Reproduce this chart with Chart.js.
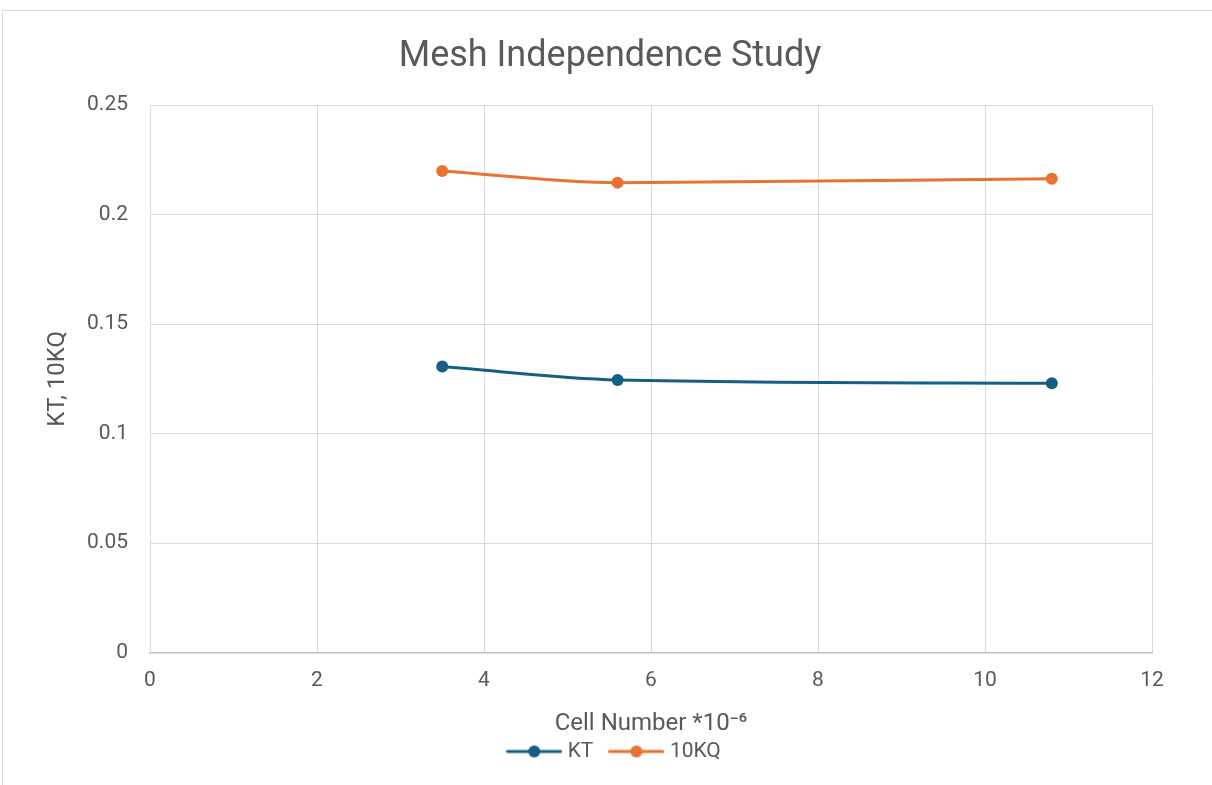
<!DOCTYPE html>
<html>
<head>
<meta charset="utf-8">
<script src="https://cdn.jsdelivr.net/npm/chart.js@4.4.1/dist/chart.umd.min.js"></script>
<style>
  html, body { margin: 0; padding: 0; background: #ffffff; overflow: hidden; }
  #frame { position: absolute; left: 2px; top: 10px; width: 1300px; height: 900px; border: 1px solid #d9d9d9; box-sizing: border-box; }
  #wrap { position: absolute; left: 0; top: 0; width: 1212px; height: 785px; }
</style>
</head>
<body>
<div id="frame"></div>
<div id="wrap"><canvas id="c" width="1212" height="785"></canvas></div>
<script>
// ---- data ----
const cellNumbers = [3.5, 5.6, 10.8];
const ktValues = [0.1306, 0.1245, 0.1230];
const kq10Values = [0.2199, 0.2146, 0.2164];
const seriesNames = ['KT', '10KQ'];
const xTickLabels = ['0', '2', '4', '6', '8', '10', '12'];
const yTickLabels = ['0', '0.05', '0.1', '0.15', '0.2', '0.25'];

const colors = ['#156082', '#E97132'];
const textColor = '#595959';
const fontFamily = 'Roboto, "Open Sans", sans-serif';

function legendIcon(color) {
  const cv = document.createElement('canvas');
  cv.width = 56; cv.height = 16;
  const g = cv.getContext('2d');
  g.strokeStyle = color; g.lineWidth = 3; g.lineCap = 'round';
  g.beginPath(); g.moveTo(1.5, 8); g.lineTo(54.5, 8); g.stroke();
  g.fillStyle = color;
  g.beginPath(); g.arc(28, 8, 6, 0, Math.PI * 2); g.fill();
  return cv;
}
const icons = colors.map(legendIcon);

function toPoints(xs, ys) { return xs.map((x, i) => ({ x: x, y: ys[i] })); }

function makeDataset(i, ys) {
  return { label: seriesNames[i], data: toPoints(cellNumbers, ys), borderColor: colors[i], backgroundColor: colors[i],
    borderWidth: 3, pointRadius: 6, pointHoverRadius: 6, pointBorderWidth: 0,
    cubicInterpolationMode: 'monotone', fill: false };
}

// shift title and legend horizontally to match the reference placement
const shiftPlugin = {
  id: 'shiftBoxes',
  afterLayout(chart) {
    if (chart.titleBlock) { chart.titleBlock.left += 15; chart.titleBlock.right += 15; }
    if (chart.legend) { chart.legend.left += 21; chart.legend.right += 21; }
  }
};

new Chart(document.getElementById('c'), {
  type: 'line',
  data: { datasets: [ makeDataset(0, ktValues), makeDataset(1, kq10Values) ] },
  plugins: [shiftPlugin],
  options: {
    responsive: false,
    animation: false,
    devicePixelRatio: 1,
    layout: { padding: { top: 10, left: 38, right: 60, bottom: 13 } },
    plugins: {
      title: { display: true, text: 'Mesh Independence Study', color: textColor,
        font: { family: fontFamily, size: 36, weight: 'normal' }, padding: { top: 25, bottom: 27 } },
      legend: { position: 'bottom',
        labels: { color: textColor, font: { family: fontFamily, size: 21 }, usePointStyle: true, pointStyleWidth: 46, padding: 20,
          generateLabels: (chart) => chart.data.datasets.map((ds, i) => ({
            text: ds.label, fillStyle: colors[i], strokeStyle: colors[i], pointStyle: icons[i], lineWidth: 0,
            fontColor: textColor, datasetIndex: i, hidden: false })) } },
      tooltip: { enabled: false }
    },
    scales: {
      x: { type: 'linear', min: 0, max: 12,
        ticks: { stepSize: 2, color: textColor, font: { family: fontFamily, size: 21 }, padding: 16, maxRotation: 0,
          callback: (v) => { const i = Math.round(v / 2); return xTickLabels[i] !== undefined ? xTickLabels[i] : ''; } },
        grid: { color: '#d9d9d9', lineWidth: 1, drawTicks: false },
        border: { color: '#bfbfbf', width: 1.5 },
        title: { display: true, text: 'Cell Number *10⁻⁶', color: textColor, font: { family: fontFamily, size: 24 }, padding: { top: 0, bottom: -17 } },
        afterFit: (s) => { s.height = 68.5; } },
      y: { min: 0, max: 0.25,
        ticks: { stepSize: 0.05, color: textColor, font: { family: fontFamily, size: 21 }, padding: 22,
          callback: (v) => { const i = Math.round(v / 0.05); return yTickLabels[i] !== undefined ? yTickLabels[i] : ''; } },
        grid: { color: '#d9d9d9', lineWidth: 1, drawTicks: false },
        border: { color: '#d9d9d9', width: 1 },
        title: { display: true, text: 'KT, 10KQ', color: textColor, font: { family: fontFamily, size: 24 }, padding: { top: 5.6, bottom: 0 } },
        afterFit: (s) => { s.width = 112; } }
    }
  }
});
</script>
</body>
</html>
